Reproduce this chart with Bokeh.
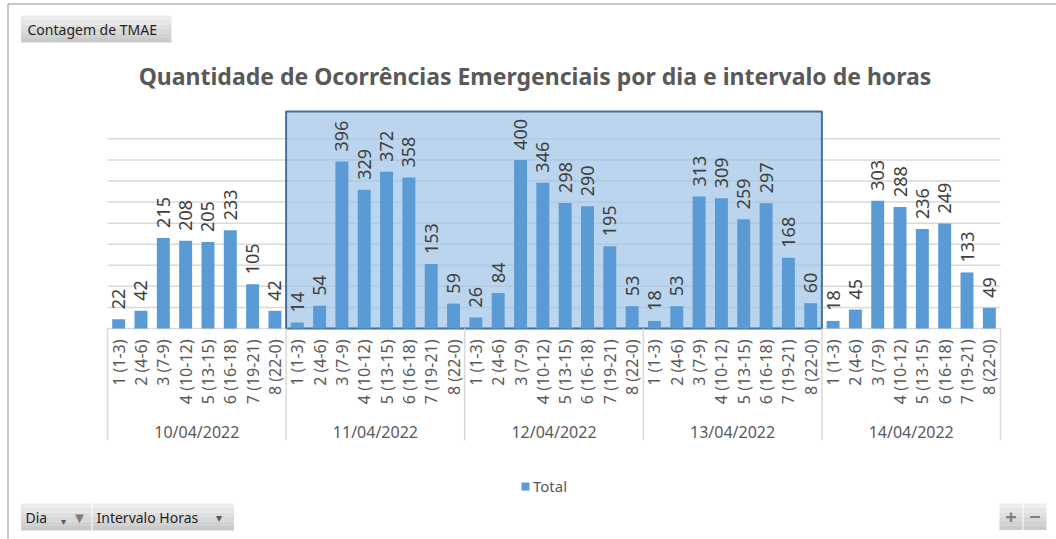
import math
from bokeh.plotting import figure
from bokeh.models import (Range1d, BoxAnnotation, Label, Legend, LegendItem,
                          ColumnDataSource)
from bokeh.core.properties import value
from bokeh.embed import file_html
from bokeh.resources import INLINE

DAYS = ["10/04/2022", "11/04/2022", "12/04/2022", "13/04/2022", "14/04/2022"]
INTERVALS = ["1 (1-3)", "2 (4-6)", "3 (7-9)", "4 (10-12)", "5 (13-15)",
             "6 (16-18)", "7 (19-21)", "8 (22-0)"]
D10 = [22, 42, 215, 208, 205, 233, 105, 42]
D11 = [14, 54, 396, 329, 372, 358, 153, 59]
D12 = [26, 84, 400, 346, 298, 290, 195, 53]
D13 = [18, 53, 313, 309, 259, 297, 168, 60]
D14 = [18, 45, 303, 288, 236, 249, 133, 49]
SERIES_NAME = "Total"
TITLE = "Quantidade de Ocorrências Emergenciais por dia e intervalo de horas"
HIGHLIGHT = ["11/04/2022", "13/04/2022"]
GRID_TICKS = [0, 50, 100, 150, 200, 250, 300, 350, 400, 450]

FONT = "Noto Sans"
GRAY = "#595959"

# ---- layout constants (pixels) ----
W, H = 1056, 539
PLOT_L, PLOT_R = 107, 1000      # category area, canvas px
BASE_Y = 328                    # baseline, canvas px
PX_PER_UNIT = 0.4215            # vertical scale
AXIS_BOTTOM = 440               # bottom of the category-axis separators

values_by_day = [D10, D11, D12, D13, D14]
n = len(INTERVALS)
ncat = n * len(DAYS)
cat_w = (PLOT_R - PLOT_L) / ncat

pos, vals, labs = [], [], []
for di, vs in enumerate(values_by_day):
    for ii, v in enumerate(vs):
        pos.append(di * n + ii + 0.5)
        vals.append(v)
        labs.append(INTERVALS[ii])
src = ColumnDataSource(dict(x=pos, top=vals, lab=[str(v) for v in vals], cat=labs))
grp = ColumnDataSource(dict(x=[(d + 0.5) * n for d in range(len(DAYS))], day=DAYS,
                            y=[0] * len(DAYS)))

x_range = Range1d(-PLOT_L / cat_w, ncat + (W - PLOT_R) / cat_w)
y_range = Range1d(-(H - BASE_Y) / PX_PER_UNIT, BASE_Y / PX_PER_UNIT)

p = figure(width=W, height=H, output_backend="svg", toolbar_location=None,
           x_range=x_range, y_range=y_range, min_border=0)
p.outline_line_color = None
p.axis.visible = False
p.grid.visible = False

# gridlines (value axis, 0..450 by 50)
p.segment(x0=0, x1=ncat, y0=GRID_TICKS, y1=GRID_TICKS, line_color="#D9D9D9",
          line_width=1.5, level="underlay")

# highlight selection box
hl_left = DAYS.index(HIGHLIGHT[0]) * n
hl_right = (DAYS.index(HIGHLIGHT[1]) + 1) * n
box = BoxAnnotation(left=hl_left, right=hl_right, bottom=0, top=515,
                    fill_color="#9DC3E6", fill_alpha=0.7,
                    line_color="#41719C", line_alpha=1, line_width=2,
                    level="underlay")
p.add_layout(box)

# separators of the category axis
for k in range(len(DAYS) + 1):
    p.add_layout(BoxAnnotation(left=k * n, right=k * n, top=0, bottom=AXIS_BOTTOM,
                               bottom_units="canvas", fill_alpha=0,
                               line_color="#D9D9D9", line_alpha=1, line_width=1.5))

bars = p.vbar(x="x", top="top", width=0.58, source=src, fill_color="#5B9BD5",
              line_color=None)
# data labels
p.text(x="x", y="top", text="lab", source=src, angle=math.pi / 2,
       text_align="left", text_baseline="middle", y_offset=-10,
       text_font=value(FONT), text_font_size="18px", text_color="#404040")
# category labels
p.text(x="x", y=0, text="cat", source=src, angle=math.pi / 2,
       text_align="right", text_baseline="middle", y_offset=11,
       text_font=value(FONT), text_font_size="16px", text_color=GRAY)
# group labels
p.text(x="x", y="y", text="day", source=grp, text_align="center",
       text_baseline="middle", y_offset=103,
       text_font=value(FONT), text_font_size="16px", text_color=GRAY)

legend = Legend(items=[LegendItem(label=SERIES_NAME, renderers=[bars])],
                location=(520, 43), orientation="horizontal",
                glyph_width=10, glyph_height=10, label_standoff=3, padding=0,
                margin=0, border_line_color=None, background_fill_alpha=0,
                label_text_font=FONT, label_text_font_size="15px",
                label_text_color=GRAY)
p.add_layout(legend)

# title
p.add_layout(Label(x=534.5, y=75, x_units="canvas", y_units="canvas", text=TITLE,
                   text_align="center", text_baseline="middle",
                   text_font=FONT, text_font_size="23px", text_font_style="bold",
                   text_color=GRAY))

# outer border
p.add_layout(BoxAnnotation(left=7.5, right=W + 10, top=3.5, bottom=H + 10,
                           left_units="canvas", right_units="canvas",
                           top_units="canvas", bottom_units="canvas",
                           fill_alpha=0, line_color="#8F8F8F", line_alpha=1,
                           line_width=1))

# pivot buttons (vertical gradient approximated by bands)
GRAD = ["#EDEDED", "#E6E6E6", "#DFDFDF", "#D8D8D8", "#D1D1D1", "#CBCBCB"]

def button(l, r, t, b):
    step = (b - t) / len(GRAD)
    for i, c in enumerate(GRAD):
        p.add_layout(BoxAnnotation(left=l, right=r, top=t + i * step,
                                   bottom=t + (i + 1) * step,
                                   left_units="canvas", right_units="canvas",
                                   top_units="canvas", bottom_units="canvas",
                                   fill_color=c, fill_alpha=1, line_color=None))

def txt(x, y, s, size="14px", color="#1F1F1F", align="left", style="normal"):
    p.add_layout(Label(x=x, y=y, x_units="canvas", y_units="canvas", text=s,
                       text_align=align, text_baseline="middle", text_font=FONT,
                       text_font_size=size, text_color=color,
                       text_font_style=style))

button(20.5, 171, 15, 42)
txt(27, 28.5, "Contagem de TMAE")
button(20.5, 91, 503, 530)
button(92, 233.5, 503, 530)
txt(25, 517, "Dia")
txt(63, 520, "▾", size="10px", color="#595959", align="center")
txt(79, 516, "▼", size="15px", color="#7F7F7F", align="center")
txt(96, 517, "Intervalo Horas")
txt(218, 517, "▾", size="12px", color="#595959", align="center")
button(999, 1022, 503, 529.5)
button(1023, 1046, 503, 529.5)
txt(1010.5, 516, "+", size="20px", color="#7F7F7F", align="center", style="bold")
txt(1034.5, 516, "−", size="20px", color="#7F7F7F", align="center", style="bold")

open("out.html", "w").write(file_html(p, INLINE))
